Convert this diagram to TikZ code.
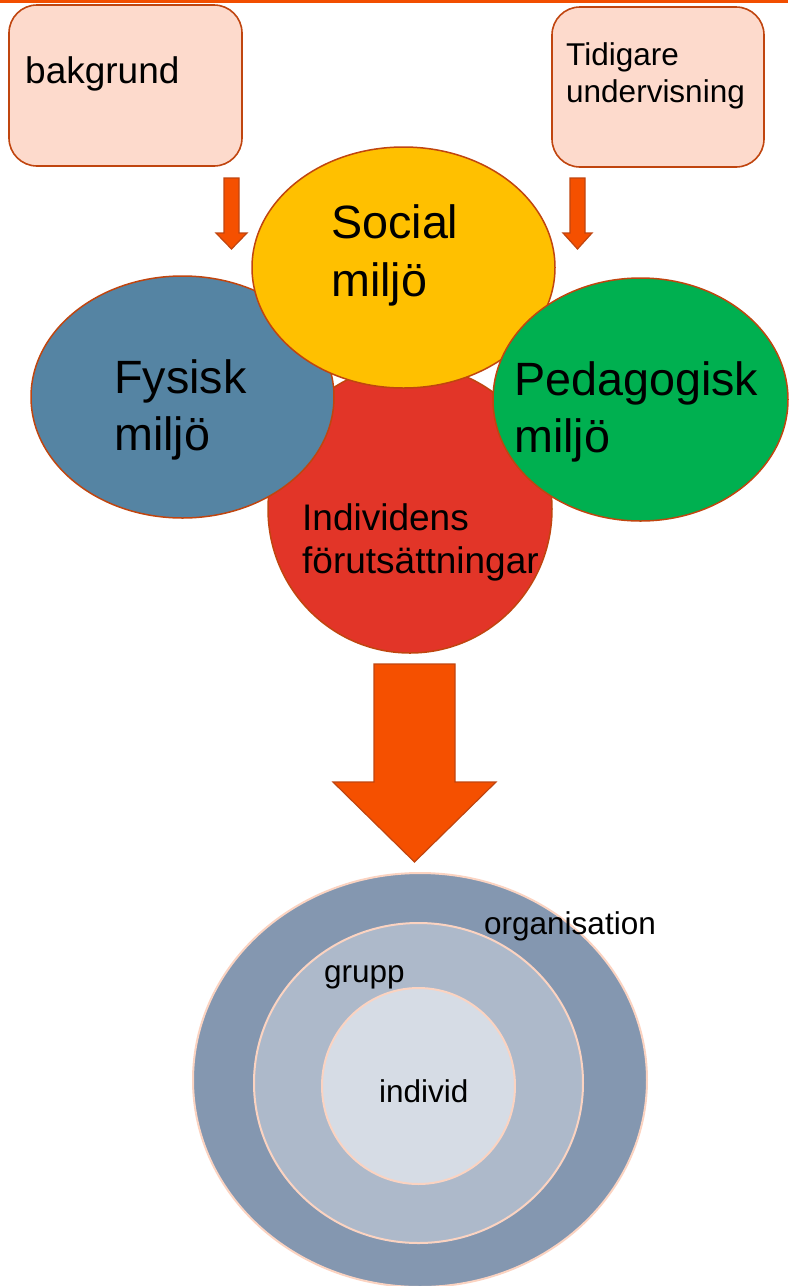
\documentclass[tikz,border=0pt]{standalone}
\usepackage{fontspec}
\setmainfont{Liberation Sans}
\usetikzlibrary{shapes.geometric}
\definecolor{topline}{HTML}{F24E00}
\definecolor{peach}{HTML}{FDDACC}
\definecolor{rust}{HTML}{C0450F}
\definecolor{arroworange}{HTML}{F55000}
\definecolor{socialy}{HTML}{FFC000}
\definecolor{fysb}{HTML}{5584A3}
\definecolor{pedg}{HTML}{00B050}
\definecolor{indr}{HTML}{E23528}
\definecolor{ringa}{HTML}{8497B0}
\definecolor{ringb}{HTML}{ADB9CA}
\definecolor{ringc}{HTML}{D6DCE5}
\definecolor{ringline}{HTML}{FBD3C1}
\tikzset{
  inbox/.style={draw=rust, line width=1.6pt, fill=peach, rounded corners=28pt, inner sep=0pt},
  blob/.style={ellipse, draw=rust, line width=1.5pt, inner sep=0pt},
  ring/.style={ellipse, draw=ringline, line width=2pt, inner sep=0pt},
  blockarrow/.style={draw=rust, line width=1.2pt, fill=arroworange, line join=miter},
  lbl/.style={anchor=base west, inner sep=0pt, text=black},
  big/.style={lbl, font=\fontsize{46.7}{56}\selectfont},
  mid/.style={lbl, font=\fontsize{37}{44}\selectfont},
  small/.style={lbl, font=\fontsize{31.5}{37}\selectfont}
}
\begin{document}
\begin{tikzpicture}[x=1pt,y=-1pt]
\useasboundingbox (0,0) rectangle (788,1286);
\fill[topline] (0,0) rectangle (788,2.8);
% top boxes
\node[inbox, minimum width=233pt, minimum height=161pt] (bak) at (125.5,85.5) {};
\node[inbox, minimum width=212pt, minimum height=160pt] (tid) at (658,87) {};
\node[mid] (tbak) at (25,83) {bakgrund};
\node[small] (ttid1) at (566,65) {Tidigare};
\node[small] (ttid2) at (566,102) {undervisning};
% small arrows
\filldraw[blockarrow] (224,178) -- (239,178) -- (239,233) -- (247,233) -- (231.5,249) -- (216,233) -- (224,233) -- cycle;
\filldraw[blockarrow] (570,178) -- (585,178) -- (585,233) -- (592,233) -- (577.5,249) -- (563,233) -- (570,233) -- cycle;
% ellipses
\node[blob, fill=indr, minimum width=284pt, minimum height=288pt] (ind) at (410,509) {};
\node[blob, fill=fysb, minimum width=303pt, minimum height=242pt] (fys) at (182.5,397) {};
\node[blob, fill=socialy, minimum width=303pt, minimum height=241pt] (soc) at (403.5,267.5) {};
\node[blob, fill=pedg, minimum width=295pt, minimum height=243pt] (ped) at (640.5,399.5) {};
\node[big] (tsoc1) at (331,238) {Social};
\node[big] (tsoc2) at (331,296) {miljö};
\node[big] (tfys1) at (114,393) {Fysisk};
\node[big] (tfys2) at (114,450) {miljö};
\node[big] (tped1) at (514,395) {Pedagogisk};
\node[big] (tped2) at (514,452) {miljö};
\node[mid] (tind1) at (302,530) {Individens};
\node[mid] (tind2) at (302,573) {förutsättningar};
% big arrow
\filldraw[blockarrow] (374,664) -- (455,664) -- (455,782) -- (496,782) -- (414.5,862) -- (333,782) -- (374,782) -- cycle;
% rings
\node[ring, fill=ringa, minimum width=454pt, minimum height=414pt] (org) at (420,1080) {};
\node[ring, fill=ringb, minimum width=329pt, minimum height=320pt] (grp) at (418.5,1083) {};
\node[ring, fill=ringc, minimum width=193pt, minimum height=196pt] (indv) at (418.5,1086) {};
\node[small] (torg) at (484,934) {organisation};
\node[small] (tgrp) at (324,982) {grupp};
\node[small] (tindv) at (379,1102) {individ};
\end{tikzpicture}
\end{document}
